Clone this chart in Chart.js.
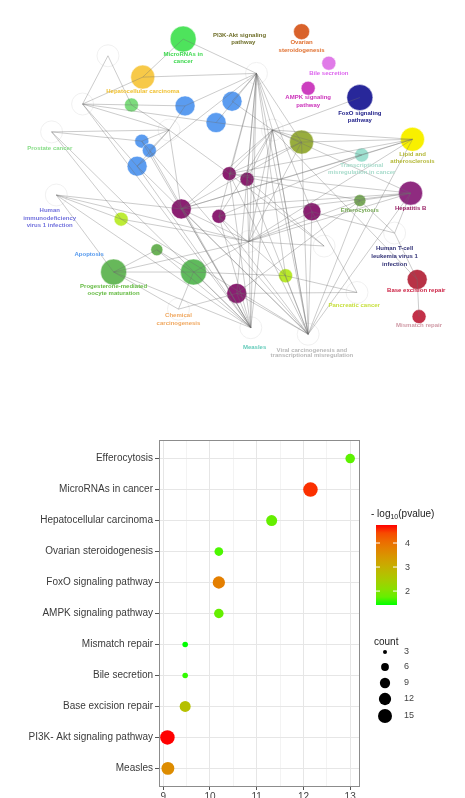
<!DOCTYPE html>
<html>

<head>
  <script src="https://cdn.jsdelivr.net/npm/chart.js@4.4.0/dist/chart.umd.min.js"></script>
  <style>
    body { margin: 0; background: #fff; }
    #net { position: absolute; left: 0; top: 0; width: 465px; height: 390px; }
    #dots { position: absolute; left: 0; top: 390px; width: 465px; height: 408px; }
  </style>
</head>

<body>
  <div id="net"><canvas id="netCanvas"></canvas></div>
  <div id="dots"><canvas id="dotCanvas"></canvas></div>
  <script>
    // ---- enrichment dot plot data ----
    var pathways = ['Efferocytosis', 'MicroRNAs in cancer', 'Hepatocellular carcinoma', 'Ovarian steroidogenesis',
      'FoxO signaling pathway', 'AMPK signaling pathway', 'Mismatch repair', 'Bile secretion',
      'Base excision repair', 'PI3K- Akt signaling pathway', 'Measles'];
    var xValues = [13.0, 12.15, 11.32, 10.19, 10.19, 10.19, 9.47, 9.47, 9.47, 9.09, 9.1];
    var counts = [8, 16, 10, 7, 12, 8, 4, 4, 10, 16, 13];
    var logP = [1.7, 4.6, 1.75, 1.6, 3.8, 1.75, 1.42, 1.5, 2.7, 4.75, 3.6];
    var xTicks = [9, 10, 11, 12, 13];
    var colorTicks = [2, 3, 4];
    var countBreaks = [3, 6, 9, 12, 15];

    // ---- network data: node layout, size, colour ----
    var nodeX = [180, 137, 125, 182, 232, 215, 136, 144, 131, 229, 306, 335, 313, 368, 306, 424, 370, 248, 422, 368,
      317, 429, 431, 289, 237, 178, 218, 114, 152, 106, 191,
      258, 275, 250, 252, 313, 73, 40, 45, 365, 175, 405, 165, 100, 330];
    var nodeY = [27, 68, 98, 99, 94, 117, 137, 147, 164, 172, 19, 53, 80, 90, 138, 135, 152, 178, 193, 201,
      213, 286, 326, 282, 301, 210, 218, 221, 254, 278, 278,
      64, 125, 245, 338, 345, 97, 127, 195, 300, 318, 236, 125, 45, 250];
    var nodeR = [13, 12, 7, 10, 10, 10, 7, 7, 10, 7, 8, 7, 7, 13, 12, 12, 7, 7, 12, 6,
      9, 10, 7, 7, 10, 10, 7, 7, 6, 13, 13,
      11, 11, 11, 11, 11, 11, 11, 11, 11, 11, 11, 11, 11, 11];
    var nodeColor = ['#4ee35c', '#f7c948', '#7ddb7d', '#5b9cf0', '#5b9cf0', '#5b9cf0', '#5b9cf0', '#5b9cf0', '#5b9cf0',
      '#8a1d6f', '#d9622b', '#e07be8', '#cc3fbf', '#28279a', '#98ad3c', '#f8f000', '#9ee0d0', '#8a1d6f', '#8f2b80',
      '#7aab5a', '#8b1f72', '#b83246', '#c23048', '#b9e92a', '#8b1f72', '#8b1f72', '#8b1f72', '#bdec36', '#6bb257',
      '#67b85a', '#5fba5c',
      '#fff', '#fff', '#fff', '#fff', '#fff', '#fff', '#fff', '#fff', '#fff', '#fff', '#fff', '#fff', '#fff', '#fff'];
    var edges = [
      [31, 0], [31, 1], [31, 3], [31, 4], [31, 5], [31, 8], [31, 14], [31, 20], [31, 32], [31, 33], [31, 34], [31, 35],
      [31, 24], [31, 23], [31, 26], [31, 17], [31, 9],
      [32, 15], [32, 14], [32, 16], [32, 18], [32, 9], [32, 17], [32, 25], [32, 26], [32, 33], [32, 34], [32, 35],
      [32, 5], [32, 4], [32, 21],
      [34, 25], [34, 26], [34, 9], [34, 17], [34, 24], [34, 30], [34, 29], [34, 28], [34, 6], [34, 7], [34, 8],
      [34, 36], [34, 37], [34, 38],
      [35, 20], [35, 23], [35, 24], [35, 17], [35, 9], [35, 26], [35, 15], [35, 18], [35, 19], [35, 14], [35, 32], [35, 25],
      [35, 8], [35, 6], [35, 27],
      [33, 15], [33, 18], [33, 19], [33, 14], [33, 29], [33, 30], [33, 27], [33, 38], [33, 25], [33, 20],
      [0, 1], [1, 36], [36, 3], [36, 5], [36, 42], [36, 8], [37, 6], [37, 42], [37, 27], [38, 27], [38, 29], [38, 25],
      [41, 21], [41, 18], [41, 19], [41, 20], [21, 22], [15, 25], [15, 9], [15, 14], [15, 16], [16, 25],
      [18, 25], [18, 26], [18, 19], [19, 9], [19, 24], [39, 23], [39, 20], [39, 24], [40, 29], [40, 30], [40, 24],
      [29, 30], [29, 28], [30, 28], [23, 30], [23, 26], [42, 6], [42, 7], [42, 8], [42, 3], [42, 25], [42, 9], [42, 2],
      [43, 2], [43, 36], [44, 17], [44, 33], [44, 9], [14, 9], [14, 25], [13, 32], [18, 9], [16, 26]
    ];
    var netLabels = [
      ['MicroRNAs in', 180, 44, '#3ed84f'], ['cancer', 180, 51, '#3ed84f'],
      ['Hepatocellular carcinoma', 137, 83, '#f0c030'],
      ['PI3K-Akt signaling', 240, 23, '#6f6f2a'], ['pathway', 244, 31, '#6f6f2a'],
      ['Ovarian', 306, 31, '#e07030'], ['steroidogenesis', 306, 39, '#e07030'],
      ['Bile secretion', 335, 64, '#dd66ee'],
      ['AMPK signaling', 313, 90, '#cc33bb'], ['pathway', 313, 98, '#cc33bb'],
      ['FoxO signaling', 368, 107, '#22228a'], ['pathway', 368, 115, '#22228a'],
      ['Lipid and', 424, 151, '#b4b838'], ['atherosclerosis', 424, 159, '#b4b838'],
      ['Transcriptional', 370, 163, '#a8dccc'], ['misregulation in cancer', 370, 171, '#a8dccc'],
      ['Prostate cancer', 38, 145, '#88dd88'],
      ['Human', 38, 212, '#7272dd'], ['immunodeficiency', 38, 220, '#7272dd'], ['virus 1 infection', 38, 228, '#7272dd'],
      ['Apoptosis', 80, 259, '#5599ee'],
      ['Progesterone-mediated', 106, 293, '#66bb44'], ['oocyte maturation', 106, 301, '#66bb44'],
      ['Chemical', 175, 325, '#f0a860'], ['carcinogenesis', 175, 333, '#f0a860'],
      ['Efferocytosis', 368, 212, '#77aa55'],
      ['Hepatitis B', 422, 209, '#992266'],
      ['Human T-cell', 405, 253, '#333377'], ['leukemia virus 1', 405, 261, '#333377'], ['infection', 405, 270, '#333377'],
      ['Base excision repair', 428, 298, '#cc2244'],
      ['Mismatch repair', 431, 335, '#d09aa6'],
      ['Pancreatic cancer', 362, 314, '#c8e040'],
      ['Measles', 256, 359, '#66ccbb'],
      ['Viral carcinogenesis and', 317, 362, '#b8b8b8'], ['transcriptional misregulation', 317, 368, '#b8b8b8']
    ];

    // ---- green -> red gradient interpolated in Lab, like ggplot ----
    function lin(c) { c /= 255; return c <= 0.04045 ? c / 12.92 : Math.pow((c + 0.055) / 1.055, 2.4); }
    function gam(c) {
      c = Math.max(0, Math.min(1, c));
      return Math.round(255 * (c <= 0.0031308 ? 12.92 * c : 1.055 * Math.pow(c, 1 / 2.4) - 0.055));
    }
    function toLab(rgb) {
      var r = lin(rgb[0]), g = lin(rgb[1]), b = lin(rgb[2]);
      var X = (0.4124 * r + 0.3576 * g + 0.1805 * b) / 0.95047;
      var Y = 0.2126 * r + 0.7152 * g + 0.0722 * b;
      var Z = (0.0193 * r + 0.1192 * g + 0.9505 * b) / 1.08883;
      var f = t => t > 0.008856 ? Math.cbrt(t) : 7.787 * t + 16 / 116;
      return [116 * f(Y) - 16, 500 * (f(X) - f(Y)), 200 * (f(Y) - f(Z))];
    }
    function fromLab(lab) {
      var fy = (lab[0] + 16) / 116, fx = fy + lab[1] / 500, fz = fy - lab[2] / 200;
      var inv = t => t > 0.2069 ? t * t * t : (t - 16 / 116) / 7.787;
      var X = inv(fx) * 0.95047, Y = inv(fy), Z = inv(fz) * 1.08883;
      var r = 3.2406 * X - 1.5372 * Y - 0.4986 * Z;
      var g = -0.9689 * X + 1.8758 * Y + 0.0415 * Z;
      var b = 0.0557 * X - 0.2040 * Y + 1.0570 * Z;
      return 'rgb(' + gam(r) + ',' + gam(g) + ',' + gam(b) + ')';
    }
    var labLow = toLab([0, 255, 0]), labHigh = toLab([255, 0, 0]);
    var pMin = Math.min.apply(null, logP), pMax = Math.max.apply(null, logP);
    function colorFor(v) {
      var t = (v - pMin) / (pMax - pMin);
      return fromLab([0, 1, 2].map(i => labLow[i] + t * (labHigh[i] - labLow[i])));
    }
    function radiusFor(c) { return Math.sqrt(Math.max(1, -7.25 + 3.75 * c)); }

    // ---------------- network ----------------
    var edgePts = [];
    edges.forEach(e => {
      edgePts.push({ x: nodeX[e[0]], y: nodeY[e[0]] });
      edgePts.push({ x: nodeX[e[1]], y: nodeY[e[1]] });
      edgePts.push({ x: nodeX[e[1]], y: null });
    });
    var nodePts = nodeX.map((x, i) => ({ x: x, y: nodeY[i], r: nodeR[i] }));

    var netText = {
      id: 'netText',
      afterDatasetsDraw(chart) {
        var ctx = chart.ctx, sx = chart.scales.x, sy = chart.scales.y;
        ctx.save();
        ctx.font = 'bold 6px "Liberation Sans", Arial, sans-serif';
        ctx.textAlign = 'center';
        ctx.textBaseline = 'middle';
        netLabels.forEach(l => {
          ctx.fillStyle = l[3];
          ctx.fillText(l[0], sx.getPixelForValue(l[1]), sy.getPixelForValue(l[2]));
        });
        ctx.restore();
      }
    };

    new Chart(document.getElementById('netCanvas'), {
      type: 'scatter',
      data: {
        datasets: [
          {
            type: 'scatter', data: edgePts, showLine: true, spanGaps: false, pointRadius: 0,
            borderColor: 'rgba(110,110,110,0.5)', borderWidth: 0.7
          },
          {
            type: 'bubble', data: nodePts, backgroundColor: nodeColor,
            borderColor: nodeColor.map(c => c === '#fff' ? '#f0f0f0' : 'rgba(255,255,255,0.5)'), borderWidth: 1
          }
        ]
      },
      options: {
        responsive: true, maintainAspectRatio: false, animation: false,
        events: [],
        layout: { padding: 0 },
        plugins: { legend: { display: false }, tooltip: { enabled: false } },
        scales: {
          x: { type: 'linear', min: 0, max: 465, display: false },
          y: { type: 'linear', min: 0, max: 390, reverse: true, display: false }
        }
      },
      plugins: [netText]
    });

    // ---------------- dot plot ----------------
    var dotPts = pathways.map((p, i) => ({ x: xValues[i], y: i, r: radiusFor(counts[i]) }));
    var dotColors = logP.map(colorFor);

    var dotExtras = {
      id: 'dotExtras',
      afterDatasetsDraw(chart) {
        var ctx = chart.ctx, a = chart.chartArea;
        ctx.save();
        // panel border
        ctx.strokeStyle = '#8c8c8c';
        ctx.lineWidth = 1;
        ctx.strokeRect(a.left + 0.5, a.top + 0.5, a.right - a.left - 1, a.bottom - a.top - 1);

        // colour bar legend
        var bx = 376, bw = 21, bTop = 135, bBot = 215;
        ctx.fillStyle = '#222';
        ctx.font = '10px "Liberation Sans", Arial, sans-serif';
        ctx.textBaseline = 'alphabetic';
        ctx.textAlign = 'left';
        var tx = 371, ty = 127;
        ctx.fillText('- log', tx, ty);
        var w1 = ctx.measureText('- log').width;
        ctx.font = '7px "Liberation Sans", Arial, sans-serif';
        ctx.fillText('10', tx + w1, ty + 2);
        var w2 = ctx.measureText('10').width;
        ctx.font = '10px "Liberation Sans", Arial, sans-serif';
        ctx.fillText('(pvalue)', tx + w1 + w2, ty);

        var grad = ctx.createLinearGradient(0, bBot, 0, bTop);
        for (var k = 0; k <= 10; k++) grad.addColorStop(k / 10, colorFor(pMin + k / 10 * (pMax - pMin)));
        ctx.fillStyle = grad;
        ctx.fillRect(bx, bTop, bw, bBot - bTop);
        ctx.textBaseline = 'middle';
        ctx.font = '9px "Liberation Sans", Arial, sans-serif';
        colorTicks.forEach(v => {
          var y = bBot - (v - pMin) / (pMax - pMin) * (bBot - bTop);
          ctx.strokeStyle = '#fff';
          ctx.beginPath();
          ctx.moveTo(bx, y); ctx.lineTo(bx + 4, y);
          ctx.moveTo(bx + bw - 4, y); ctx.lineTo(bx + bw, y);
          ctx.stroke();
          ctx.fillStyle = '#444';
          ctx.fillText(String(v), bx + bw + 8, y);
        });

        // size legend
        ctx.fillStyle = '#222';
        ctx.font = '10px "Liberation Sans", Arial, sans-serif';
        ctx.textBaseline = 'alphabetic';
        ctx.fillText('count', 374, 255);
        var ys = [262, 277, 293, 309, 326];
        ctx.font = '9px "Liberation Sans", Arial, sans-serif';
        ctx.textBaseline = 'middle';
        countBreaks.forEach((c, i) => {
          ctx.fillStyle = '#000';
          ctx.beginPath();
          ctx.arc(385, ys[i], radiusFor(c), 0, Math.PI * 2);
          ctx.fill();
          ctx.fillStyle = '#444';
          ctx.fillText(String(c), 404, ys[i]);
        });
        ctx.restore();
      }
    };

    new Chart(document.getElementById('dotCanvas'), {
      type: 'bubble',
      data: {
        datasets: [{
          data: dotPts, backgroundColor: dotColors, borderWidth: 0, clip: false
        }]
      },
      options: {
        responsive: true, maintainAspectRatio: false, animation: false,
        events: [],
        layout: { padding: { top: 50, right: 105, left: 0, bottom: 0 } },
        plugins: { legend: { display: false }, tooltip: { enabled: false } },
        scales: {
          x: {
            type: 'linear', min: 8.91, max: 13.21,
            afterBuildTicks: s => {
              var t = [];
              for (var v = 9; v <= 13; v += 0.5) t.push({ value: v });
              s.ticks = t;
            },
            afterFit: s => { s.height = 11; },
            border: { display: false },
            grid: {
              color: c => Number.isInteger(c.tick && c.tick.value) ? '#e6e6e6' : '#f3f3f3',
              tickColor: c => Number.isInteger(c.tick && c.tick.value) ? '#555' : 'rgba(0,0,0,0)',
              tickLength: 3, lineWidth: 1
            },
            ticks: {
              padding: 1, color: '#444', autoSkip: false, maxRotation: 0,
              font: { size: 10, family: '"Liberation Sans", Arial, sans-serif' },
              callback: v => xTicks.indexOf(v) >= 0 ? String(v) : ''
            }
          },
          y: {
            type: 'linear', min: -0.6, max: 10.6, reverse: true,
            afterBuildTicks: s => { s.ticks = pathways.map((p, i) => ({ value: i })); },
            afterFit: s => { s.width = 159; },
            border: { display: false },
            grid: { color: '#e6e6e6', tickColor: '#555', tickLength: 4 },
            ticks: {
              padding: 2, color: '#3a3a3a', autoSkip: false,
              font: { size: 10, family: '"Liberation Sans", Arial, sans-serif' },
              callback: v => pathways[v]
            }
          }
        }
      },
      plugins: [dotExtras]
    });
  </script>
</body>

</html>
